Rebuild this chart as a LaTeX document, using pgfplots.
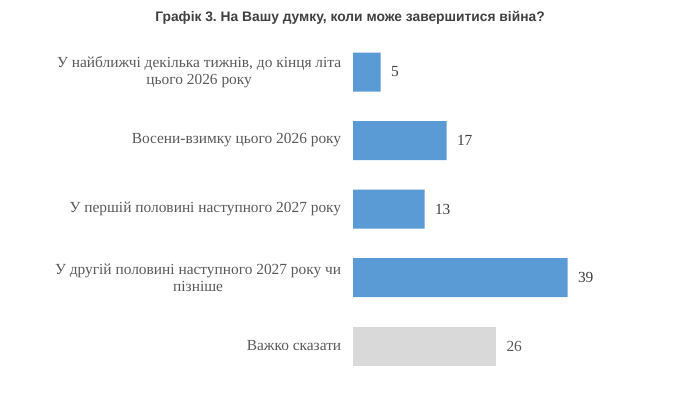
\documentclass[border=0pt]{standalone}
\usepackage{pgfplots}
\pgfplotsset{compat=1.18}
\usepackage{fontspec}
\setmainfont{Liberation Serif}
\newfontfamily\titlefont{Liberation Sans}
\frenchspacing
\definecolor{barblue}{HTML}{5B9BD5}
\definecolor{bargrey}{HTML}{D9D9D9}
\definecolor{labgrey}{HTML}{595959}
\definecolor{valdark}{HTML}{404040}
\definecolor{titlegrey}{HTML}{404040}
\begin{document}
\begin{tikzpicture}
\path[use as bounding box] (0pt,0pt) rectangle (676pt,410pt);
\node[font=\titlefont\bfseries\fontsize{13.8}{16}\selectfont, text=titlegrey] at (350pt,392pt) {Графік 3. На Вашу думку, коли може завершитися війна?};
\begin{axis}[
  at={(353pt,29.75pt)}, anchor=south west,
  scale only axis, width=302.5pt, height=342.5pt,
  xmin=0, xmax=55, ymin=-0.5, ymax=4.5,
  y dir=reverse,
  axis line style={draw=none},
  tick style={draw=none},
  xtick=\empty,
  xbar, bar width=39pt, bar shift=0pt,
  ytick={0,1,2,3,4},
  yticklabels={{У найближчі декілька тижнів, до кінця літа\\цього 2026 року},{Восени-взимку цього 2026 року},{У першій половині наступного 2027 року},{У другій половині наступного 2027 року чи\\пізніше},{Важко сказати}},
  yticklabel style={align=center, font=\fontsize{15.4}{17}\selectfont, text=labgrey, xshift=-4pt},
  /pgf/number format/assume math mode=true,
  nodes near coords,
  nodes near coords style={font=\fontsize{15.4}{17}\selectfont, anchor=west, xshift=7pt},
  clip=false,
]
\addplot[draw=none, fill=barblue, nodes near coords style={text=valdark}] coordinates {(5,0) (17,1) (13,2) (39,3)};
\addplot[draw=none, fill=bargrey, nodes near coords style={text=labgrey}] coordinates {(26,4)};
\end{axis}
\end{tikzpicture}
\end{document}
